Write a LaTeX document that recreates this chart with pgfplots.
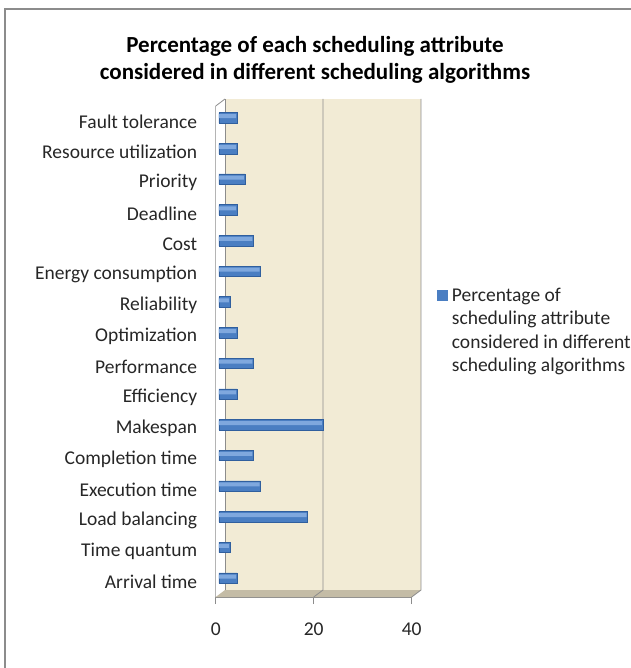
\documentclass[border=0pt]{standalone}
\usepackage{pgfplots}
\pgfplotsset{compat=1.18}
\usepackage{fontspec}
\setmainfont{Carlito}
\definecolor{barblue}{HTML}{4A7EC2}
\definecolor{barlight}{HTML}{7FA8DE}
\definecolor{bardark}{HTML}{305F9E}
\definecolor{wall}{HTML}{F2EBD5}
\definecolor{floorc}{HTML}{C4BCA6}
\definecolor{edge}{HTML}{8C8C8C}
\begin{document}
\begin{tikzpicture}
\useasboundingbox (-215.7pt,-71pt) rectangle (414.3pt,597pt);
\draw[edge, line width=1.6pt] (-210.7pt,-80pt) -- (-210.7pt,588pt) -- (430pt,588pt);
\begin{axis}[
  scale only axis,
  width=196pt, height=491pt,
  xmin=0, xmax=40, ymin=-0.5, ymax=15.5,
  clip=false,
  axis lines*=left,
  axis line style={edge, line width=0.8pt, -},
  xtick={0,20,40},
  ytick={0,...,15},
  yticklabels={Arrival time, Time quantum, Load balancing, Execution time, Completion time, Makespan, Efficiency, Performance, Optimization, Reliability, Energy consumption, Cost, Deadline, Priority, Resource utilization, Fault tolerance},
  minor ytick={-0.5,0.5,...,15.5},
  tick align=outside,
  major tick length=7pt,
  minor tick length=5pt,
  ytick style={draw=none},
  minor y tick style={edge, line width=0.8pt},
  xtick style={edge, line width=0.8pt},
  /pgf/number format/assume math mode=true,
  ticklabel style={font=\fontsize{19.5}{23.4}\selectfont, text=black!85},
  yticklabel style={xshift=-8pt},
  xticklabel style={yshift=-15pt},
  title={Percentage of each scheduling attribute\\considered in different scheduling algorithms},
  title style={at={(0,0)}, anchor=center, xshift=99.3pt, yshift=531.5pt, align=center, font=\fontsize{23}{27}\selectfont\bfseries},
  legend style={at={(0,0)}, anchor=north west, xshift=234pt, yshift=311pt, draw=none, fill=none, inner sep=0pt,
    nodes={align=left, font=\fontsize{19.5}{23.4}\selectfont, text=black!85}},
  legend image code/.code={\path[draw=none, fill=none] (-15pt,-38.5pt) rectangle (-4pt,38.5pt);\fill[barblue, draw=none] (-15pt,27.5pt) rectangle (-4pt,38.5pt);},
]
% back wall, left wall and floor of the 3D frame
\fill[white] (axis cs:0,-0.5) -- ([xshift=9.3pt,yshift=7pt]axis cs:0,-0.5) -- ([xshift=9.3pt,yshift=7pt]axis cs:0,15.5) -- (axis cs:0,15.5) -- cycle;
\fill[wall] ([xshift=9.3pt,yshift=7pt]axis cs:0,-0.5) rectangle ([xshift=9.3pt,yshift=7pt]axis cs:40,15.5);
\fill[floorc] (axis cs:0,-0.5) -- (axis cs:40,-0.5) -- ([xshift=9.3pt,yshift=7pt]axis cs:40,-0.5) -- ([xshift=9.3pt,yshift=7pt]axis cs:0,-0.5) -- cycle;
\draw[edge, line width=0.8pt] ([xshift=9.3pt,yshift=7pt]axis cs:0,-0.5) -- ([xshift=9.3pt,yshift=7pt]axis cs:0,15.5);
\draw[edge, line width=0.8pt] (axis cs:0,15.5) -- ([xshift=9.3pt,yshift=7pt]axis cs:0,15.5);
\draw[edge, line width=0.8pt] (axis cs:20,-0.5) -- ([xshift=9.3pt,yshift=7pt]axis cs:20,-0.5) -- ([xshift=9.3pt,yshift=7pt]axis cs:20,15.5);
\draw[edge, line width=0.8pt] (axis cs:40,-0.5) -- ([xshift=9.3pt,yshift=7pt]axis cs:40,-0.5) -- ([xshift=9.3pt,yshift=7pt]axis cs:40,15.5);
\begin{scope}[transform canvas={shift={(1.65pt,1.75pt)}}]
\addplot[xbar, bar width=10.5pt, draw=bardark, line width=0.5pt, fill=barblue]
coordinates {
(3.7,0) (2.2,1) (18.1,2) (8.5,3) (7.0,4) (21.2,5) (3.7,6) (7.0,7)
(3.7,8) (2.2,9) (8.5,10) (7.0,11) (3.7,12) (5.3,13) (3.7,14) (3.7,15)
};
\addplot[xbar, bar width=4pt, bar shift=1.6pt, draw=none, fill=barlight, forget plot]
coordinates {
(3.5,0) (2.0,1) (17.9,2) (8.3,3) (6.8,4) (21.0,5) (3.5,6) (6.8,7)
(3.5,8) (2.0,9) (8.3,10) (6.8,11) (3.5,12) (5.1,13) (3.5,14) (3.5,15)
};
\end{scope}
\addlegendentry{Percentage of\\scheduling attribute\\considered in different\\scheduling algorithms}
\end{axis}
\end{tikzpicture}
\end{document}
